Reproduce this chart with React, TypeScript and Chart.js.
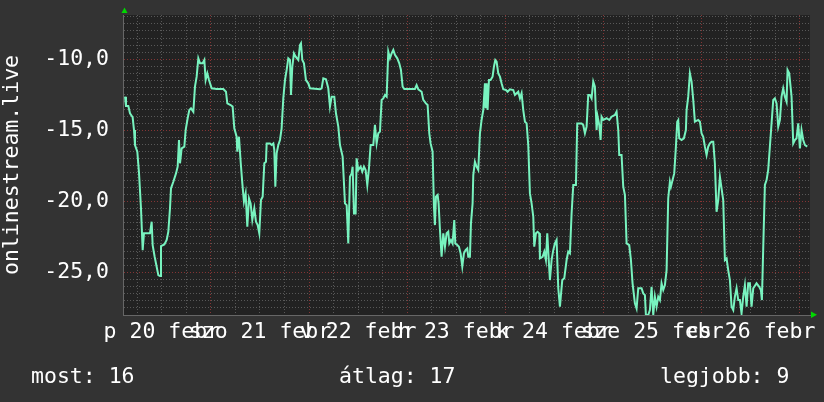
import React, { useEffect, useRef } from 'react';
import { Chart, registerables } from 'chart.js';

Chart.register(...registerables);

// ---- data (hours since start of the graph, value) ----
const hours: number[] = [
  0.49, 0.73, 1.30, 1.71, 2.36, 2.69, 2.93, 3.50, 3.91, 4.40,
  4.81, 5.13, 6.60, 7.01, 7.25, 7.74, 8.23, 8.64, 9.05, 9.29,
  10.11, 10.68, 11.08, 11.49, 11.74, 12.31, 12.96, 13.37, 13.69, 13.94,
  14.34, 15.00, 15.32, 15.81, 16.22, 16.63, 17.20, 17.60, 18.01, 18.42,
  18.83, 19.48, 19.89, 20.21, 20.62, 21.03, 21.68, 22.90, 24.53, 25.18,
  25.51, 26.32, 26.81, 27.22, 27.79, 27.95, 28.36, 28.77, 29.18, 29.58,
  29.99, 30.40, 30.81, 31.21, 31.62, 32.11, 32.52, 32.93, 33.33, 33.74,
  34.15, 34.56, 34.96, 35.13, 35.94, 36.35, 36.76, 37.00, 37.25, 37.57,
  37.98, 38.39, 38.79, 39.20, 39.61, 40.02, 40.42, 40.83, 41.08, 41.40,
  41.81, 42.22, 42.87, 43.28, 43.52, 43.85, 44.25, 44.74, 45.31, 45.72,
  48.17, 48.57, 48.98, 49.63, 50.20, 50.61, 51.02, 51.67, 52.08, 52.65,
  53.06, 53.71, 54.28, 54.69, 55.09, 55.50, 55.91, 56.15, 56.48, 56.89,
  57.13, 57.54, 58.11, 58.52, 58.92, 59.33, 59.74, 60.15, 60.55, 61.21,
  61.61, 62.02, 62.43, 62.84, 63.24, 63.65, 64.06, 64.47, 64.87, 65.28,
  65.69, 66.10, 66.50, 67.07, 67.56, 67.97, 68.38, 68.79, 71.39, 71.80,
  72.21, 73.02, 73.43, 74.08, 74.49, 74.90, 75.22, 75.71, 76.04, 76.28,
  76.53, 76.94, 77.18, 77.51, 77.91, 78.32, 78.73, 79.14, 79.54, 79.79,
  80.20, 80.60, 81.01, 81.26, 81.74, 82.15, 82.56, 82.97, 83.37, 83.78,
  84.19, 84.43, 84.84, 85.09, 85.49, 85.66, 86.06, 86.47, 86.88, 87.29,
  87.69, 88.10, 88.51, 88.67, 88.92, 89.16, 89.49, 89.89, 90.38, 90.71,
  91.04, 91.36, 91.77, 92.18, 92.58, 92.99, 93.64, 94.05, 94.62, 95.44,
  95.84, 96.25, 96.66, 97.07, 97.47, 97.88, 98.29, 98.70, 99.10, 99.51,
  99.92, 100.33, 100.57, 100.98, 101.39, 101.79, 101.96, 102.61, 103.02, 103.42,
  103.75, 104.16, 104.40, 104.81, 105.22, 105.62, 106.03, 106.44, 106.85, 107.09,
  107.42, 107.91, 108.48, 108.88,
  109.29, 109.70, 110.11, 110.76, 111.08, 112.14, 112.55, 112.96, 113.37, 113.77,
  114.18, 114.59, 115.00, 115.40, 115.81, 116.06, 116.46, 116.79, 117.03, 117.44,
  118.26, 118.91, 119.48, 120.29, 120.70, 121.11, 121.35, 121.92, 122.33, 122.74,
  123.15, 123.80, 124.21, 124.61, 125.18, 125.59, 126.00, 126.81, 127.22, 127.63,
  127.87, 128.44, 128.85, 129.26, 129.67, 130.07, 130.48, 130.89, 131.30, 131.70,
  132.11, 132.52, 132.93, 133.33, 133.74, 133.99, 134.39, 134.80, 135.21, 135.53,
  135.78, 136.02, 136.59, 137.16, 137.65, 137.82, 138.22, 138.63, 139.04, 139.45,
  139.85, 140.67, 141.08, 141.48, 141.89, 142.30, 142.71, 143.11, 143.52, 143.93,
  144.34, 144.74, 145.15, 145.56, 145.97, 146.37, 146.78, 147.19, 147.60, 148.00,
  148.41, 148.82, 149.23, 149.63, 150.04, 150.45, 150.86, 151.26, 151.67, 152.08,
  152.49, 152.89, 153.30, 153.71, 154.12, 154.93, 155.58, 155.99, 156.24, 156.56,
  156.97, 157.38, 157.78, 158.19, 158.60, 159.01, 159.41, 159.82, 160.23, 160.64,
  161.04, 161.45, 161.86, 162.27, 162.51, 162.92, 163.49, 163.90, 164.30, 164.71,
  165.12, 165.53, 165.93, 166.34, 166.75, 167.32,
];

const values: number[] = [
  -12.63, -13.29, -13.29, -13.80, -14.08, -14.98, -16.03, -16.50, -17.98, -20.49,
  -23.43, -22.25, -22.25, -21.43, -23.08, -23.90, -24.60, -25.19, -25.26, -23.15,
  -23.03, -22.72, -22.14, -20.49, -19.08, -18.62, -18.03, -17.56, -15.68, -17.32,
  -16.27, -16.15, -14.98, -14.15, -13.57, -13.45, -13.69, -11.92, -11.22, -9.93,
  -10.28, -10.28, -10.05, -11.46, -10.99, -11.46, -12.04, -12.09, -12.09, -12.28,
  -13.10, -13.22, -13.33, -14.86, -15.45, -16.50, -15.45, -17.21, -18.73, -20.02,
  -19.44, -21.78, -19.79, -20.14, -21.31, -20.49, -21.43, -21.67, -22.25, -19.91,
  -19.67, -17.32, -17.21, -15.92, -15.92, -16.03, -15.92, -16.38, -18.97, -16.62,
  -16.03, -15.68, -14.86, -12.75, -11.46, -10.75, -9.93, -10.05, -12.51, -10.52,
  -9.58, -9.81, -10.05, -8.99, -8.87, -10.05, -10.28, -11.46, -11.69, -12.04,
  -12.11, -12.04, -11.34, -11.41, -12.04, -13.33, -12.63, -12.63, -13.80, -14.74,
  -16.03, -16.85, -20.14, -20.26, -22.96, -18.26, -18.03, -17.56, -20.85, -20.85,
  -16.97, -17.79, -17.56, -17.91, -17.56, -17.79, -18.85, -17.68, -16.03, -16.03,
  -14.62, -15.92, -15.21, -15.09, -12.86, -12.75, -12.51, -12.63, -9.46, -9.93,
  -9.58, -9.34, -9.69, -9.93, -10.28, -10.75, -11.92, -12.09, -12.09, -11.81,
  -12.11, -12.28, -12.86, -13.10, -13.22, -15.21, -15.92, -16.50, -20.38, -21.67,
  -19.67, -19.55, -20.14, -22.02, -23.90, -22.25, -23.19, -22.25, -22.14, -22.96,
  -22.72, -22.96, -21.31, -22.96, -23.08, -23.19, -23.66, -24.60, -23.66, -23.43,
  -23.31, -23.90, -23.90, -21.55, -20.14, -18.15, -17.21, -17.56, -17.79, -15.21,
  -14.27, -13.57, -11.69, -13.45, -11.69, -13.57, -11.46, -11.46, -11.22, -10.52,
  -10.05, -10.16, -10.99, -11.22, -11.69, -12.11, -12.16, -12.28, -12.11, -12.16,
  -12.51, -12.39, -12.28, -12.75, -12.39, -13.57, -14.39, -14.51, -16.03, -19.44,
  -20.14, -21.08, -23.19, -22.25, -22.14, -22.25, -24.01, -23.90, -23.54, -24.13,
  -22.25, -24.37, -25.54, -24.13, -23.43, -22.96, -22.72, -26.12, -27.42, -26.60,
  -25.54, -25.42, -24.13, -23.54,
  -23.66, -20.85, -18.85, -18.85, -14.51, -14.51, -14.62, -15.21, -14.74, -12.51,
  -12.51, -12.75, -11.57, -11.92, -14.98, -14.04, -14.62, -15.68, -14.04, -14.27,
  -14.15, -14.27, -14.04, -13.92, -13.69, -14.98, -16.74, -16.74, -18.97, -19.55,
  -22.96, -23.08, -24.13, -25.77, -27.18, -27.54, -26.12, -26.12, -26.48, -26.60,
  -28.00, -28.00, -27.65, -26.01, -28.00, -26.71, -27.42, -26.71, -26.95, -25.77,
  -26.24, -25.89, -24.84, -19.79, -18.62, -18.97, -18.50, -18.03, -16.15, -14.39,
  -14.27, -15.56, -15.68, -15.56, -14.98, -13.57, -12.63, -10.99, -11.57, -12.86,
  -14.39, -14.27, -14.39, -15.21, -15.45, -16.15, -16.74, -16.15, -15.92, -15.80,
  -15.80, -17.32, -20.73, -19.91, -18.26, -19.08, -19.91, -24.13, -24.01, -24.84,
  -25.54, -27.42, -27.65, -26.71, -26.12, -26.95, -26.95, -27.89, -26.71, -25.89,
  -27.42, -25.77, -25.77, -27.42, -26.12, -25.77, -26.01, -26.24, -26.95, -23.31,
  -18.85, -18.50, -17.79, -16.15, -14.51, -12.86, -12.75, -13.10, -14.74, -14.27,
  -12.63, -12.04, -12.63, -12.98, -10.75, -10.99, -12.63, -15.92, -15.68, -15.56,
  -14.51, -16.27, -14.98, -15.68, -16.03, -16.15,
];

// ---- axis labels ----
const dayLabels: string[] = ['p 20 febr', 'szo 21 febr', 'v 22 febr', 'h 23 febr', 'k 24 febr', 'sze 25 febr', 'cs 26 febr'];
const labelHours: number[] = [9.5, 33.5, 57.5, 81.5, 105.5, 129.5, 153.5];
const midnightHours: number[] = [21.5, 45.5, 69.5, 93.5, 117.5, 141.5, 165.5];
const yLabelValues: number[] = [-25, -20, -15, -10];
const statTexts: string[] = ['most: 16', 'átlag: 17', 'legjobb: 9'];
const axisTitle = 'onlinestream.live';

const X_MIN = 0;
const X_MAX = 168;
const Y_MIN = -28.0;
const Y_MAX = -6.88;

const FONT = "'DejaVu Sans Mono', monospace";
const OUTER_BG = '#333333';
const PLOT_BG = '#222222';
const MINOR_GRID = '#585858';
const MAJOR_GRID = '#843434';
const LINE_COLOR = '#78f3bf';
const ARROW_COLOR = '#00d800';

const isNear = (a: number, b: number) => Math.abs(a - b) < 1e-6;

const plotBgPlugin = {
  id: 'plotBg',
  beforeDraw(chart: any) {
    const { ctx, chartArea: a } = chart;
    ctx.save();
    ctx.fillStyle = PLOT_BG;
    ctx.fillRect(a.left, a.top, a.right - a.left, a.bottom - a.top);
    ctx.restore();
  },
};

const arrowPlugin = {
  id: 'arrows',
  afterDraw(chart: any) {
    const { ctx, chartArea: a } = chart;
    ctx.save();
    ctx.fillStyle = ARROW_COLOR;
    ctx.beginPath();
    ctx.moveTo(a.left - 1.5, a.top - 2);
    ctx.lineTo(a.left + 4.5, a.top - 2);
    ctx.lineTo(a.left + 1.5, a.top - 7.5);
    ctx.closePath();
    ctx.fill();
    ctx.beginPath();
    ctx.moveTo(a.right + 1, a.bottom - 3.5);
    ctx.lineTo(a.right + 1, a.bottom + 3);
    ctx.lineTo(a.right + 7, a.bottom - 0.25);
    ctx.closePath();
    ctx.fill();
    ctx.restore();
  },
};

export default function App() {
  const canvasRef = useRef<HTMLCanvasElement | null>(null);

  useEffect(() => {
    document.body.style.margin = '0';
    document.body.style.background = OUTER_BG;
    const canvas = canvasRef.current;
    if (!canvas) return;

    const gridHours: number[] = [];
    for (let h = 3.5; h < X_MAX; h += 6) gridHours.push(h);
    const yGrid: number[] = [];
    for (let v = Y_MIN; v <= -7 + 1e-9; v += 0.5) yGrid.push(Math.round(v * 10) / 10);

    const chart = new Chart(canvas, {
      type: 'line',
      data: {
        datasets: [
          {
            data: hours.map((h, i) => ({ x: h, y: values[i] })),
            borderColor: LINE_COLOR,
            borderWidth: 2,
            pointRadius: 0,
            tension: 0,
            fill: false,
          },
        ],
      },
      options: {
        animation: false,
        responsive: false,
        maintainAspectRatio: false,
        events: [],
        layout: { padding: { top: 15, right: 14, bottom: 0, left: 0 } },
        plugins: { legend: { display: false }, tooltip: { enabled: false }, title: { display: false } },
        scales: {
          x: {
            type: 'linear',
            min: X_MIN,
            max: X_MAX,
            position: 'bottom',
            afterBuildTicks: (s: any) => {
              s.ticks = gridHours.map((v) => ({ value: v }));
            },
            afterFit: (s: any) => {
              s.height = 87;
              s.paddingLeft = 0;
              s.paddingRight = 0;
            },
            ticks: {
              autoSkip: false,
              maxRotation: 0,
              minRotation: 0,
              padding: 4.5,
              color: '#ffffff',
              font: { family: FONT, size: 21.5 },
              callback: (v: any) => {
                const idx = labelHours.findIndex((h) => isNear(h, Number(v)));
                return idx >= 0 ? dayLabels[idx] : '';
              },
            },
            grid: {
              drawTicks: false,
              lineWidth: 1,
              color: (ctx: any) =>
                ctx.tick && midnightHours.some((h) => isNear(h, ctx.tick.value)) ? MAJOR_GRID : MINOR_GRID,
            },
            border: { display: true, color: '#666666', width: 1, dash: [1, 2] },
          },
          y: {
            type: 'linear',
            min: Y_MIN,
            max: Y_MAX,
            afterBuildTicks: (s: any) => {
              s.ticks = yGrid.map((v) => ({ value: v }));
            },
            afterFit: (s: any) => {
              s.width = 123;
              s.paddingTop = 0;
              s.paddingBottom = 0;
            },
            ticks: {
              autoSkip: false,
              padding: 14,
              color: '#ffffff',
              font: { family: FONT, size: 21.5 },
              callback: (v: any) => {
                const n = Number(v);
                return yLabelValues.some((m) => isNear(m, n)) ? n.toFixed(1).replace('.', ',') : '';
              },
            },
            grid: {
              drawTicks: false,
              lineWidth: 1,
              color: (ctx: any) =>
                ctx.tick && yLabelValues.some((m) => isNear(m, ctx.tick.value)) ? MAJOR_GRID : MINOR_GRID,
            },
            border: { display: true, color: '#666666', width: 1, dash: [1, 2] },
            title: {
              display: true,
              text: axisTitle,
              color: '#ffffff',
              font: { family: FONT, size: 21.5, lineHeight: 1 },
              padding: { top: 1.5, bottom: 0 },
            },
          },
        },
      } as any,
      plugins: [plotBgPlugin, arrowPlugin],
    });

    return () => chart.destroy();
  }, []);

  const textStyle: React.CSSProperties = {
    position: 'absolute',
    top: 365,
    fontFamily: FONT,
    fontSize: 21.5,
    lineHeight: '21px',
    color: '#ffffff',
    whiteSpace: 'pre',
  };

  return (
    <div style={{ position: 'relative', width: 824, height: 402, background: OUTER_BG, overflow: 'hidden' }}>
      <canvas ref={canvasRef} width={824} height={402} style={{ display: 'block', width: 824, height: 402 }} />
      <div style={{ ...textStyle, left: 31 }}>{statTexts[0]}</div>
      <div style={{ ...textStyle, left: 339 }}>{statTexts[1]}</div>
      <div style={{ ...textStyle, left: 660 }}>{statTexts[2]}</div>
    </div>
  );
}
